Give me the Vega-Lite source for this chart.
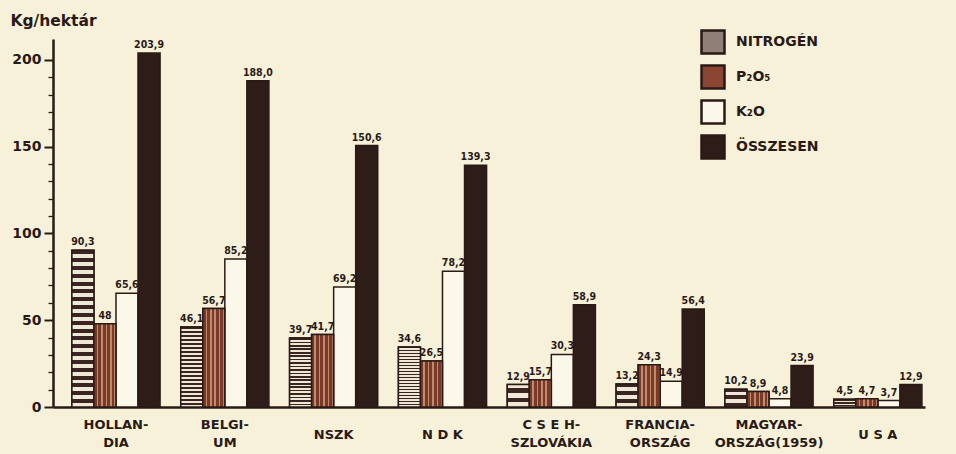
{
  "$schema": "https://vega.github.io/schema/vega-lite/v6.json",
  "autosize": {"type": "none"},
  "width": 872,
  "height": 368,
  "padding": {"left": 53, "top": 39, "right": 31, "bottom": 47},
  "background": "#f7f1da",
  "config": {
    "view": {"stroke": null},
    "font": "DejaVu Sans Condensed"
  },
  "data": {
    "values": [
      {"country": "HOLLAN-|DIA", "series": "NITROGÉN", "value": 90.3, "label": "90,3"},
      {"country": "HOLLAN-|DIA", "series": "P₂O₅", "value": 48, "label": "48"},
      {"country": "HOLLAN-|DIA", "series": "K₂O", "value": 65.6, "label": "65,6"},
      {"country": "HOLLAN-|DIA", "series": "ÖSSZESEN", "value": 203.9, "label": "203,9"},
      {"country": "BELGI-|UM", "series": "NITROGÉN", "value": 46.1, "label": "46,1"},
      {"country": "BELGI-|UM", "series": "P₂O₅", "value": 56.7, "label": "56,7"},
      {"country": "BELGI-|UM", "series": "K₂O", "value": 85.2, "label": "85,2"},
      {"country": "BELGI-|UM", "series": "ÖSSZESEN", "value": 188.0, "label": "188,0"},
      {"country": "NSZK", "series": "NITROGÉN", "value": 39.7, "label": "39,7"},
      {"country": "NSZK", "series": "P₂O₅", "value": 41.7, "label": "41,7"},
      {"country": "NSZK", "series": "K₂O", "value": 69.2, "label": "69,2"},
      {"country": "NSZK", "series": "ÖSSZESEN", "value": 150.6, "label": "150,6"},
      {"country": "N D K", "series": "NITROGÉN", "value": 34.6, "label": "34,6"},
      {"country": "N D K", "series": "P₂O₅", "value": 26.5, "label": "26,5"},
      {"country": "N D K", "series": "K₂O", "value": 78.2, "label": "78,2"},
      {"country": "N D K", "series": "ÖSSZESEN", "value": 139.3, "label": "139,3"},
      {"country": "C S E H-|SZLOVÁKIA", "series": "NITROGÉN", "value": 12.9, "label": "12,9"},
      {"country": "C S E H-|SZLOVÁKIA", "series": "P₂O₅", "value": 15.7, "label": "15,7"},
      {"country": "C S E H-|SZLOVÁKIA", "series": "K₂O", "value": 30.3, "label": "30,3"},
      {"country": "C S E H-|SZLOVÁKIA", "series": "ÖSSZESEN", "value": 58.9, "label": "58,9"},
      {"country": "FRANCIA-|ORSZÁG", "series": "NITROGÉN", "value": 13.2, "label": "13,2"},
      {"country": "FRANCIA-|ORSZÁG", "series": "P₂O₅", "value": 24.3, "label": "24,3"},
      {"country": "FRANCIA-|ORSZÁG", "series": "K₂O", "value": 14.9, "label": "14,9"},
      {"country": "FRANCIA-|ORSZÁG", "series": "ÖSSZESEN", "value": 56.4, "label": "56,4"},
      {"country": "MAGYAR-|ORSZÁG(1959)", "series": "NITROGÉN", "value": 10.2, "label": "10,2"},
      {"country": "MAGYAR-|ORSZÁG(1959)", "series": "P₂O₅", "value": 8.9, "label": "8,9"},
      {"country": "MAGYAR-|ORSZÁG(1959)", "series": "K₂O", "value": 4.8, "label": "4,8"},
      {"country": "MAGYAR-|ORSZÁG(1959)", "series": "ÖSSZESEN", "value": 23.9, "label": "23,9"},
      {"country": "U S A", "series": "NITROGÉN", "value": 4.5, "label": "4,5"},
      {"country": "U S A", "series": "P₂O₅", "value": 4.7, "label": "4,7"},
      {"country": "U S A", "series": "K₂O", "value": 3.7, "label": "3,7"},
      {"country": "U S A", "series": "ÖSSZESEN", "value": 12.9, "label": "12,9"}
    ]
  },
  "encoding": {
    "x": {
      "field": "country", "type": "nominal", "sort": null,
      "scale": {"paddingInner": 0.19, "paddingOuter": 0.101, "align": 0.86},
      "axis": {
        "title": null, "ticks": false, "labelAngle": 0,
        "labelExpr": "split(datum.label, '|')",
        "labelFont": "DejaVu Sans", "labelFontWeight": "bold", "labelFontSize": 13,
        "labelColor": "#2a1a16", "labelBaseline": "top",
        "labelPadding": {"condition": {"test": "indexof(datum.value, '|') >= 0", "value": 11}, "value": 21},
        "labelLineHeight": 18,
        "domainColor": "#2a1a16", "domainWidth": 2.5
      }
    },
    "xOffset": {
      "field": "series", "type": "nominal",
      "scale": {"domain": ["NITROGÉN", "P₂O₅", "K₂O", "ÖSSZESEN"], "paddingInner": 0, "paddingOuter": 0}
    },
    "y": {
      "field": "value", "type": "quantitative",
      "scale": {"domain": [0, 212], "nice": false},
      "axis": {
        "title": "Kg/hektár", "titleAngle": 0, "titleX": -43, "titleY": -19,
        "titleAlign": "left", "titleBaseline": "middle",
        "titleFont": "DejaVu Sans", "titleFontWeight": "bold", "titleFontSize": 15.5, "titleColor": "#2a1a16",
        "values": [0, 10, 20, 30, 40, 50, 60, 70, 80, 90, 100, 110, 120, 130, 140, 150, 160, 170, 180, 190, 200],
        "labelExpr": "datum.value % 50 === 0 ? datum.label : ''",
        "labelFont": "DejaVu Sans", "labelFontWeight": "bold", "labelFontSize": 14, "labelColor": "#2a1a16",
        "labelPadding": 3,
        "grid": false,
        "tickColor": "#2a1a16",
        "tickSize": {"condition": {"test": "datum.value % 50 === 0", "value": 9}, "value": 5},
        "tickWidth": {"condition": {"test": "datum.value % 50 === 0", "value": 2}, "value": 1.3},
        "domainColor": "#2a1a16", "domainWidth": 2.5
      }
    }
  },
  "layer": [
    {
      "mark": {"type": "bar", "stroke": "#2a1a16", "strokeWidth": 1.5},
      "encoding": {
        "fill": {
          "field": "series", "type": "nominal",
          "scale": {"domain": ["NITROGÉN", "P₂O₅", "K₂O", "ÖSSZESEN"], "range": ["#8f7f76", "#8a4632", "#fbf8ea", "#2e1c19"]},
          "legend": {
            "title": null, "orient": "none", "legendX": 647, "legendY": -10,
            "symbolType": "square", "symbolSize": 529, "symbolStrokeColor": "#2a1a16", "symbolStrokeWidth": 2.5,
            "symbolOpacity": 1,
            "labelFont": "DejaVu Sans", "labelFontWeight": "bold", "labelFontSize": 14, "labelColor": "#2a1a16",
            "labelOffset": 10, "rowPadding": 1,
            "encode": {
              "symbols": {
                "update": {
                  "stroke": {"value": "#2a1a16"},
                  "strokeWidth": {"value": 2.5}
                }
              }
            }
          }
        }
      }
    },
    {
      "transform": [{"filter": "datum.series === 'NITROGÉN' || datum.series === 'P₂O₅'"}],
      "mark": {"type": "bar", "stroke": "#2a1a16", "strokeWidth": 1.5},
      "encoding": {
        "fill": {
          "condition": {"test": "datum.series === 'NITROGÉN'", "value": {"gradient": "linear", "x1": 0, "y1": 0, "x2": 0, "y2": 1, "stops": [
            {"offset": 0, "color": "#3b2520"}, {"offset": 0.025, "color": "#3b2520"}, {"offset": 0.025, "color": "#efe8d6"}, {"offset": 0.05, "color": "#efe8d6"},
            {"offset": 0.05, "color": "#3b2520"}, {"offset": 0.075, "color": "#3b2520"}, {"offset": 0.075, "color": "#efe8d6"}, {"offset": 0.1, "color": "#efe8d6"},
            {"offset": 0.1, "color": "#3b2520"}, {"offset": 0.125, "color": "#3b2520"}, {"offset": 0.125, "color": "#efe8d6"}, {"offset": 0.15, "color": "#efe8d6"},
            {"offset": 0.15, "color": "#3b2520"}, {"offset": 0.175, "color": "#3b2520"}, {"offset": 0.175, "color": "#efe8d6"}, {"offset": 0.2, "color": "#efe8d6"},
            {"offset": 0.2, "color": "#3b2520"}, {"offset": 0.225, "color": "#3b2520"}, {"offset": 0.225, "color": "#efe8d6"}, {"offset": 0.25, "color": "#efe8d6"},
            {"offset": 0.25, "color": "#3b2520"}, {"offset": 0.275, "color": "#3b2520"}, {"offset": 0.275, "color": "#efe8d6"}, {"offset": 0.3, "color": "#efe8d6"},
            {"offset": 0.3, "color": "#3b2520"}, {"offset": 0.325, "color": "#3b2520"}, {"offset": 0.325, "color": "#efe8d6"}, {"offset": 0.35, "color": "#efe8d6"},
            {"offset": 0.35, "color": "#3b2520"}, {"offset": 0.375, "color": "#3b2520"}, {"offset": 0.375, "color": "#efe8d6"}, {"offset": 0.4, "color": "#efe8d6"},
            {"offset": 0.4, "color": "#3b2520"}, {"offset": 0.425, "color": "#3b2520"}, {"offset": 0.425, "color": "#efe8d6"}, {"offset": 0.45, "color": "#efe8d6"},
            {"offset": 0.45, "color": "#3b2520"}, {"offset": 0.475, "color": "#3b2520"}, {"offset": 0.475, "color": "#efe8d6"}, {"offset": 0.5, "color": "#efe8d6"},
            {"offset": 0.5, "color": "#3b2520"}, {"offset": 0.525, "color": "#3b2520"}, {"offset": 0.525, "color": "#efe8d6"}, {"offset": 0.55, "color": "#efe8d6"},
            {"offset": 0.55, "color": "#3b2520"}, {"offset": 0.575, "color": "#3b2520"}, {"offset": 0.575, "color": "#efe8d6"}, {"offset": 0.6, "color": "#efe8d6"},
            {"offset": 0.6, "color": "#3b2520"}, {"offset": 0.625, "color": "#3b2520"}, {"offset": 0.625, "color": "#efe8d6"}, {"offset": 0.65, "color": "#efe8d6"},
            {"offset": 0.65, "color": "#3b2520"}, {"offset": 0.675, "color": "#3b2520"}, {"offset": 0.675, "color": "#efe8d6"}, {"offset": 0.7, "color": "#efe8d6"},
            {"offset": 0.7, "color": "#3b2520"}, {"offset": 0.725, "color": "#3b2520"}, {"offset": 0.725, "color": "#efe8d6"}, {"offset": 0.75, "color": "#efe8d6"},
            {"offset": 0.75, "color": "#3b2520"}, {"offset": 0.775, "color": "#3b2520"}, {"offset": 0.775, "color": "#efe8d6"}, {"offset": 0.8, "color": "#efe8d6"},
            {"offset": 0.8, "color": "#3b2520"}, {"offset": 0.825, "color": "#3b2520"}, {"offset": 0.825, "color": "#efe8d6"}, {"offset": 0.85, "color": "#efe8d6"},
            {"offset": 0.85, "color": "#3b2520"}, {"offset": 0.875, "color": "#3b2520"}, {"offset": 0.875, "color": "#efe8d6"}, {"offset": 0.9, "color": "#efe8d6"},
            {"offset": 0.9, "color": "#3b2520"}, {"offset": 0.925, "color": "#3b2520"}, {"offset": 0.925, "color": "#efe8d6"}, {"offset": 0.95, "color": "#efe8d6"},
            {"offset": 0.95, "color": "#3b2520"}, {"offset": 0.975, "color": "#3b2520"}, {"offset": 0.975, "color": "#efe8d6"}, {"offset": 1, "color": "#efe8d6"}
          ]}},
          "value": {"gradient": "linear", "x1": 0, "y1": 0, "x2": 1, "y2": 0, "stops": [
            {"offset": 0, "color": "#7a3a28"}, {"offset": 0.13, "color": "#7a3a28"}, {"offset": 0.13, "color": "#c08a6e"}, {"offset": 0.2, "color": "#c08a6e"},
            {"offset": 0.2, "color": "#7a3a28"}, {"offset": 0.33, "color": "#7a3a28"}, {"offset": 0.33, "color": "#c08a6e"}, {"offset": 0.4, "color": "#c08a6e"},
            {"offset": 0.4, "color": "#7a3a28"}, {"offset": 0.53, "color": "#7a3a28"}, {"offset": 0.53, "color": "#c08a6e"}, {"offset": 0.6, "color": "#c08a6e"},
            {"offset": 0.6, "color": "#7a3a28"}, {"offset": 0.73, "color": "#7a3a28"}, {"offset": 0.73, "color": "#c08a6e"}, {"offset": 0.8, "color": "#c08a6e"},
            {"offset": 0.8, "color": "#7a3a28"}, {"offset": 0.93, "color": "#7a3a28"}, {"offset": 0.93, "color": "#c08a6e"}, {"offset": 1, "color": "#7a3a28"}
          ]}
        }
      }
    },
    {
      "mark": {"type": "text", "baseline": "bottom", "dy": -3, "fontSize": 10.5, "fontWeight": "bold", "font": "DejaVu Sans Condensed", "color": "#2a1a16"},
      "encoding": {
        "text": {"field": "label", "type": "nominal"}
      }
    }
  ]
}
